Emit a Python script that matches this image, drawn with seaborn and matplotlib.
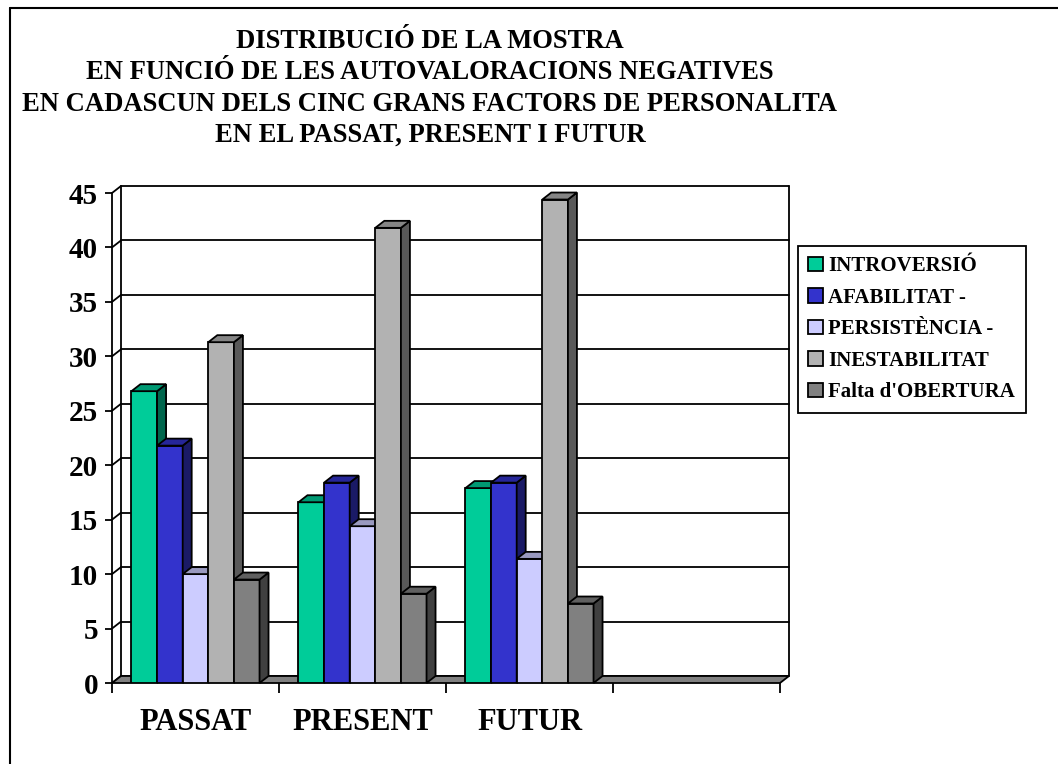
import numpy as np
import pandas as pd
import matplotlib
matplotlib.use('Agg')
import matplotlib.pyplot as plt
import seaborn as sns
from matplotlib.patches import Polygon, Patch
from matplotlib.lines import Line2D
from matplotlib.colors import to_rgb

periods = ['PASSAT', 'PRESENT', 'FUTUR']
factors = ['INTROVERSIÓ', 'AFABILITAT -', 'PERSISTÈNCIA -', 'INESTABILITAT', "Falta d'OBERTURA"]
introversio = [26.8, 16.6, 17.9]
afabilitat = [21.8, 18.4, 18.4]
persistencia = [10.0, 14.4, 11.4]
inestabilitat = [31.3, 41.8, 44.4]
obertura = [9.5, 8.2, 7.3]
colors = ['#00CC99', '#3333CC', '#CCCCFF', '#B2B2B2', '#808080']
yticks = list(range(0, 50, 5))
title = ('DISTRIBUCIÓ DE LA MOSTRA\n'
         'EN FUNCIÓ DE LES AUTOVALORACIONS NEGATIVES\n'
         'EN CADASCUN DELS CINC GRANS FACTORS DE PERSONALITA\n'
         'EN EL PASSAT, PRESENT I FUTUR')

df = pd.DataFrame({
    'Periode': periods * len(factors),
    'Factor': np.repeat(factors, len(periods)),
    'Valor': introversio + afabilitat + persistencia + inestabilitat + obertura,
})

sns.set_style('white')
plt.rcParams['font.family'] = ['Liberation Serif', 'DejaVu Serif']
plt.rcParams['font.weight'] = 'bold'
plt.rcParams['text.color'] = 'black'
plt.rcParams['xtick.color'] = 'black'
plt.rcParams['ytick.color'] = 'black'

W, H = 1058, 764
fig = plt.figure(figsize=(W / 100, H / 100), dpi=100)
# front plane of the 3d box (pixels)
left, right, bottom, top = 112, 780, 683, 193
ax = fig.add_axes([left / W, 1 - bottom / H, (right - left) / W, (bottom - top) / H])

sns.barplot(data=df, x='Periode', y='Valor', hue='Factor', order=periods,
            hue_order=factors, palette=colors, saturation=1, width=0.767,
            edgecolor='black', linewidth=1.3, legend=False, errorbar=None, ax=ax)
ax.set_xlim(-0.5, 3.5)
ax.set_ylim(0, 45)
ax.set_xlabel('')
ax.set_ylabel('')

# depth of the fake 3d effect
ddx = 9 * 4 / (right - left)
ddy = 7 * 45 / (bottom - top)
lw = 1.3

# back wall + left wall
for v in yticks:
    ax.plot([-0.5 + ddx, 3.5 + ddx], [v + ddy] * 2, color='black', lw=lw, zorder=0.5, clip_on=False)
    ax.plot([-0.5, -0.5 + ddx], [v, v + ddy], color='black', lw=lw, zorder=0.5, clip_on=False)
ax.plot([-0.5 + ddx] * 2, [ddy, 45 + ddy], color='black', lw=lw, zorder=0.5, clip_on=False)
ax.plot([3.5 + ddx] * 2, [ddy, 45 + ddy], color='black', lw=lw, zorder=0.5, clip_on=False)

# floor
ax.add_patch(Polygon([(-0.5, 0), (3.5, 0), (3.5 + ddx, ddy), (-0.5 + ddx, ddy)],
                     fc='#808080', ec='black', lw=lw, zorder=1, clip_on=False))

# sides and tops of the bars
bars = []
for i, cont in enumerate(ax.containers):
    for bar in cont:
        bars.append((bar.get_x(), bar, i))
bars.sort(key=lambda t: t[0])
for k, (x0, bar, i) in enumerate(bars):
    z = 3 + k
    bar.set_zorder(z)
    x1 = x0 + bar.get_width()
    h = bar.get_height()
    base = np.array(to_rgb(colors[i]))
    ax.add_patch(Polygon([(x1, 0), (x1, h), (x1 + ddx, h + ddy), (x1 + ddx, ddy)],
                         fc=base * 0.5, ec='black', lw=lw, zorder=z, clip_on=False))
    ax.add_patch(Polygon([(x0, h), (x1, h), (x1 + ddx, h + ddy), (x0 + ddx, h + ddy)],
                         fc=base * 0.75, ec='black', lw=lw, zorder=z, clip_on=False))

for s in ['top', 'right', 'bottom']:
    ax.spines[s].set_visible(False)
ax.spines['left'].set_color('black')
ax.spines['left'].set_linewidth(lw)
ax.spines['left'].set_zorder(2)

ax.set_yticks(yticks)
ax.tick_params(axis='y', left=True, length=5, width=lw, color='black', labelsize=21, pad=5)
ax.set_xticks([-0.5, 0.5, 1.5, 2.5, 3.5], [''] * 5)
ax.set_xticks([0, 1, 2], periods, minor=True)
ax.tick_params(axis='x', which='major', bottom=True, length=7, width=lw, color='black')
ax.tick_params(axis='x', which='minor', bottom=True, length=0, labelsize=22, pad=18)

handles = [Patch(fc=c, ec='black', lw=lw) for c in colors]
leg = fig.legend(handles, factors, loc='upper left', bbox_to_anchor=(798 / W, 1 - 246 / H),
                 frameon=True, fancybox=False, edgecolor='black', framealpha=1,
                 prop={'size': 15, 'weight': 'bold'}, handlelength=0.7, handleheight=0.7,
                 handletextpad=0.25, labelspacing=0.55, borderpad=0.5, borderaxespad=0)
leg.get_frame().set_linewidth(lw)

fig.text(430 / W, 1 - 29 / H, title, ha='center', va='top', fontsize=19.2,
         fontweight='bold', linespacing=1.33)

# outer frame (only left and top edges are visible)
fig.add_artist(Line2D([9.5 / W, 9.5 / W], [0, 1 - 8 / H], color='black', lw=1.5, transform=fig.transFigure))
fig.add_artist(Line2D([9.5 / W, 1], [1 - 8 / H, 1 - 8 / H], color='black', lw=1.5, transform=fig.transFigure))

fig.savefig('out.png', dpi=100)
